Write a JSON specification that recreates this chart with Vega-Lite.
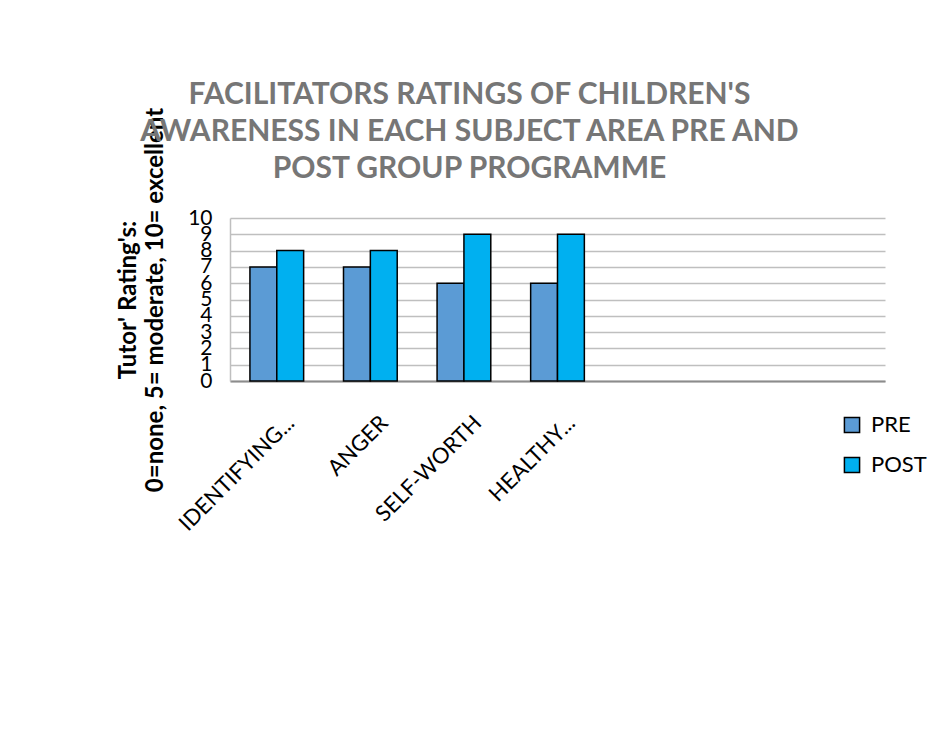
{
  "$schema": "https://vega.github.io/schema/vega-lite/v6.json",
  "width": 655,
  "height": 163,
  "autosize": {"type": "none"},
  "padding": {"left": 230, "top": 218, "right": 52, "bottom": 356},
  "background": "white",
  "title": {
    "text": ["FACILITATORS RATINGS OF CHILDREN'S", "AWARENESS IN EACH SUBJECT AREA PRE AND", "POST GROUP PROGRAMME"],
    "font": "Lato",
    "fontSize": 30,
    "fontWeight": "bold",
    "color": "#767676",
    "lineHeight": 37,
    "anchor": "middle",
    "frame": "group",
    "dx": -88,
    "dy": 105,
    "offset": 28
  },
  "data": {
    "values": [
      {"area": "IDENTIFYING...", "phase": "PRE", "rating": 7},
      {"area": "IDENTIFYING...", "phase": "POST", "rating": 8},
      {"area": "ANGER", "phase": "PRE", "rating": 7},
      {"area": "ANGER", "phase": "POST", "rating": 8},
      {"area": "SELF-WORTH", "phase": "PRE", "rating": 6},
      {"area": "SELF-WORTH", "phase": "POST", "rating": 9},
      {"area": "HEALTHY...", "phase": "PRE", "rating": 6},
      {"area": "HEALTHY...", "phase": "POST", "rating": 9}
    ]
  },
  "mark": {"type": "bar", "stroke": "black", "strokeWidth": 1.5},
  "encoding": {
    "x": {
      "field": "area",
      "type": "nominal",
      "scale": {
        "domain": ["IDENTIFYING...", "ANGER", "SELF-WORTH", "HEALTHY...", " ", "  ", "   "],
        "paddingInner": 0.426,
        "paddingOuter": 0.213
      },
      "axis": {
        "title": null,
        "labelAngle": -45,
        "labelAlign": "right",
        "labelBaseline": "middle",
        "labelFont": "Lato",
        "labelFontSize": 22,
        "labelColor": "black",
        "labelPadding": 38,
        "labelOffset": 14,
        "ticks": false,
        "domainColor": "#8c8c8c",
        "domainWidth": 2,
        "grid": false
      }
    },
    "xOffset": {
      "field": "phase",
      "type": "nominal",
      "scale": {"domain": ["PRE", "POST"], "paddingInner": 0, "paddingOuter": 0}
    },
    "y": {
      "field": "rating",
      "type": "quantitative",
      "scale": {"domain": [0, 10], "nice": false},
      "axis": {
        "title": ["Tutor' Rating's:", "0=none, 5= moderate, 10= excellent"],
        "titleFont": "Lato",
        "titleFontSize": 24,
        "titleFontWeight": "bold",
        "titleColor": "black",
        "titleLineHeight": 27,
        "titlePadding": 20,
        "values": [0, 1, 2, 3, 4, 5, 6, 7, 8, 9, 10],
        "labelOverlap": false,
        "labelFont": "Lato",
        "labelFontSize": 21,
        "labelColor": "black",
        "labelPadding": 18,
        "ticks": false,
        "grid": true,
        "gridColor": "#bfbfbf",
        "gridWidth": 1.5,
        "domainColor": "#bfbfbf",
        "domainWidth": 1.5
      }
    },
    "color": {
      "field": "phase",
      "type": "nominal",
      "scale": {"domain": ["PRE", "POST"], "range": ["#5B9BD5", "#00B0F0"]},
      "legend": {
        "title": null,
        "orient": "none",
        "legendX": 611,
        "legendY": 196,
        "symbolType": "square",
        "symbolSize": 230,
        "symbolStrokeColor": "black",
        "symbolStrokeWidth": 1.5,
        "symbolOpacity": 1,
        "labelFont": "Lato",
        "labelFontSize": 22,
        "labelColor": "black",
        "rowPadding": 18,
        "labelOffset": 8
      }
    }
  },
  "config": {"view": {"stroke": null}}
}
